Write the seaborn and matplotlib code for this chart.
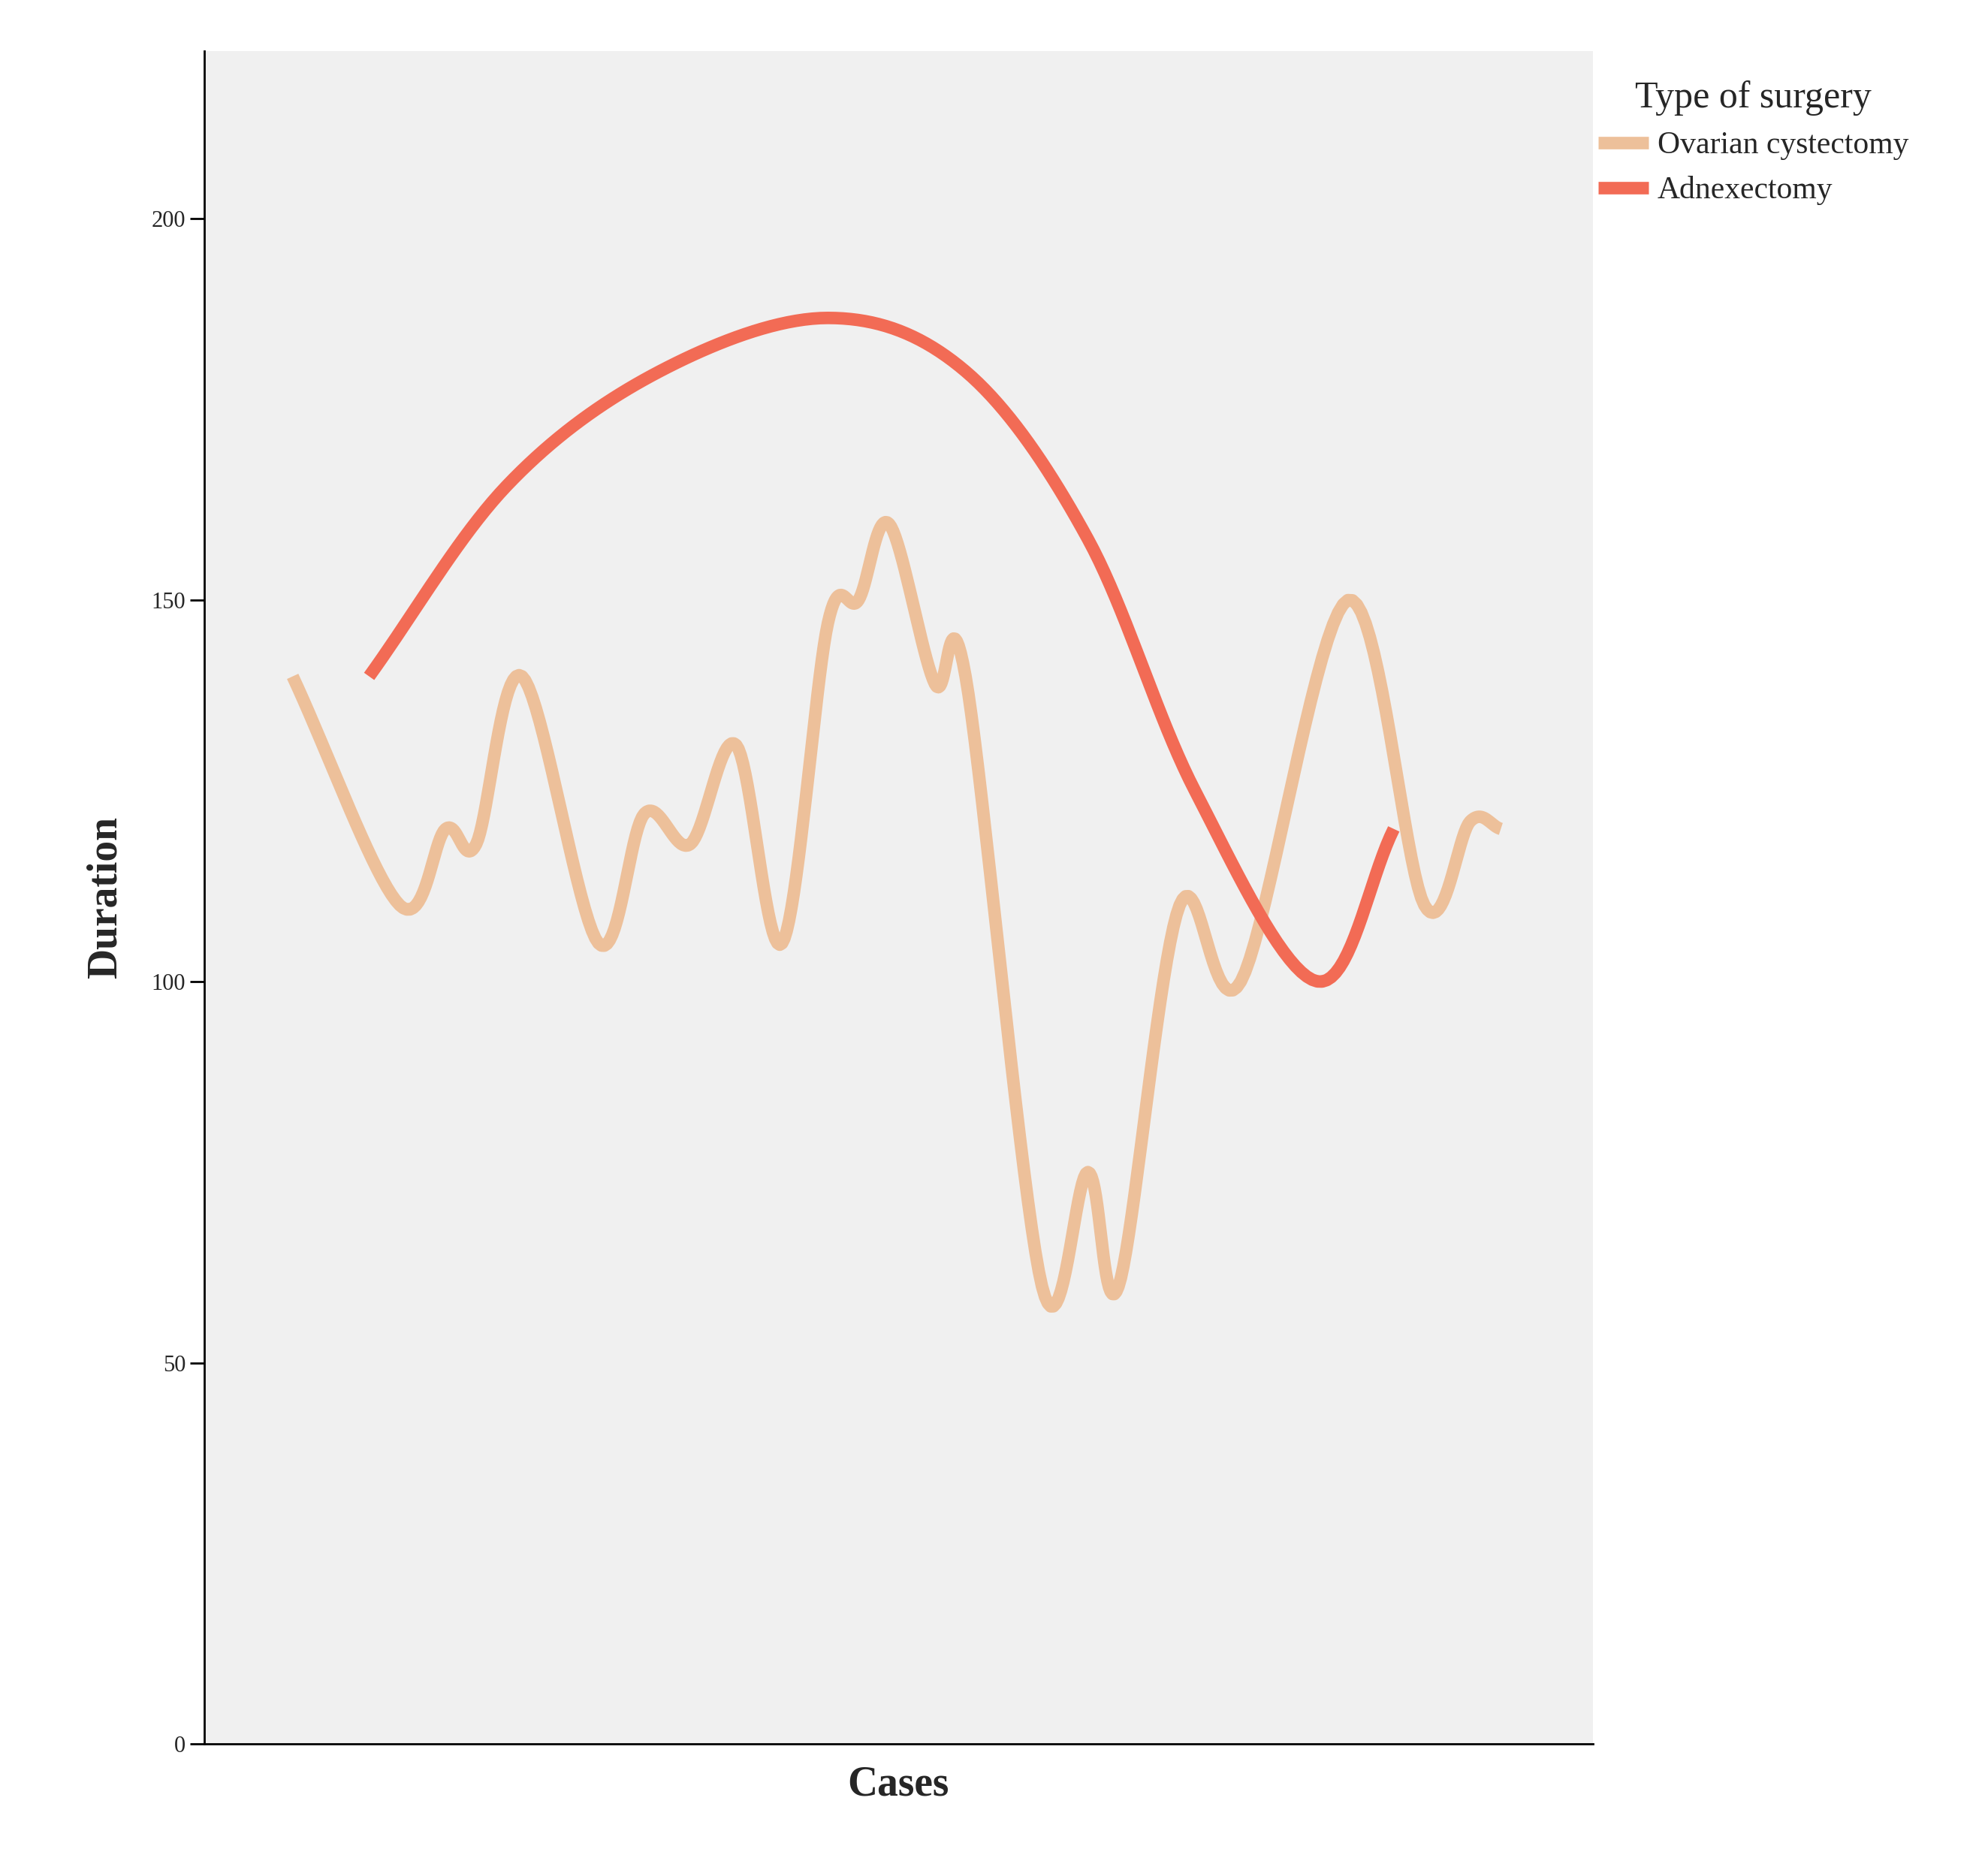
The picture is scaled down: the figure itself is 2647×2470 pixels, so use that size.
import numpy as np
import pandas as pd
import seaborn as sns
import matplotlib.pyplot as plt

# values
ovarian_case = [0, 7, 10, 12, 15, 20, 23, 26, 29, 32, 35, 37, 39, 42, 44, 49, 52, 54, 58, 62, 69, 74, 77, 79]
ovarian_dur = [140, 110, 120, 118, 140, 105, 122, 118, 131, 105, 147, 150, 160, 139, 140, 60, 75, 60, 110, 100, 150, 110, 121, 120]
adnex_case = [5, 14, 24, 35, 44, 52, 59, 67, 72]
adnex_dur = [140, 165, 180, 187, 180, 158, 125, 100, 120]
y_ticks = [0, 50, 100, 150, 200]


def smooth(x, y, n=20):
    # catmull-rom style curve through the points, for drawing only
    x = np.asarray(x, float); y = np.asarray(y, float)
    px = np.concatenate([[2 * x[0] - x[1]], x, [2 * x[-1] - x[-2]]])
    py = np.concatenate([[2 * y[0] - y[1]], y, [2 * y[-1] - y[-2]]])
    xs, ys = [], []
    for i in range(1, len(px) - 2):
        t = np.linspace(0, 1, n, endpoint=False)
        for p, out in ((px, xs), (py, ys)):
            p0, p1, p2, p3 = p[i - 1], p[i], p[i + 1], p[i + 2]
            out.extend(0.5 * (2 * p1 + (-p0 + p2) * t + (2 * p0 - 5 * p1 + 4 * p2 - p3) * t ** 2
                              + (-p0 + 3 * p1 - 3 * p2 + p3) * t ** 3))
    xs.append(x[-1]); ys.append(y[-1])
    return xs, ys


ox, oy = smooth(ovarian_case, ovarian_dur)
ax_, ay = smooth(adnex_case, adnex_dur)
df = pd.concat([
    pd.DataFrame({"Cases": ox, "Duration": oy, "Type of surgery": "Ovarian cystectomy"}),
    pd.DataFrame({"Cases": ax_, "Duration": ay, "Type of surgery": "Adnexectomy"}),
])

sns.set_style("white")
plt.rcParams["font.family"] = ["Liberation Serif", "DejaVu Serif"]

fig = plt.figure(figsize=(26.47, 24.70), dpi=100)
ax = fig.add_axes([0.1026, 0.0598, 0.6985, 0.9127])
ax.set_facecolor("#F0F0F0")
sns.lineplot(data=df, x="Cases", y="Duration", hue="Type of surgery", sort=False,
             palette=["#EDC09A", "#F26B55"], linewidth=12, ax=ax, estimator=None,
             solid_capstyle="butt")

ax.set_xlim(-5.8, 85)
ax.set_ylim(0, 222)
ax.set_xticks([])
ax.set_yticks(y_ticks)
ax.tick_params(axis="y", direction="out", length=14, width=2, labelsize=22, left=True, color="black")
for s in ["top", "right"]:
    ax.spines[s].set_visible(False)
for s in ["left", "bottom"]:
    ax.spines[s].set_color("black")
    ax.spines[s].set_linewidth(2)
ax.set_xlabel("Cases", fontsize=40, fontweight="bold", labelpad=20)
ax.set_ylabel("Duration", fontsize=40, fontweight="bold", labelpad=25)

leg = ax.legend(title="Type of surgery", loc="upper left", bbox_to_anchor=(0.995, 0.99),
                frameon=False, fontsize=30, title_fontsize=36, handlelength=1.6,
                handletextpad=0.3, borderaxespad=0)
for h in leg.get_lines():
    h.set_linewidth(12)

fig.savefig("out.png", dpi=100)
